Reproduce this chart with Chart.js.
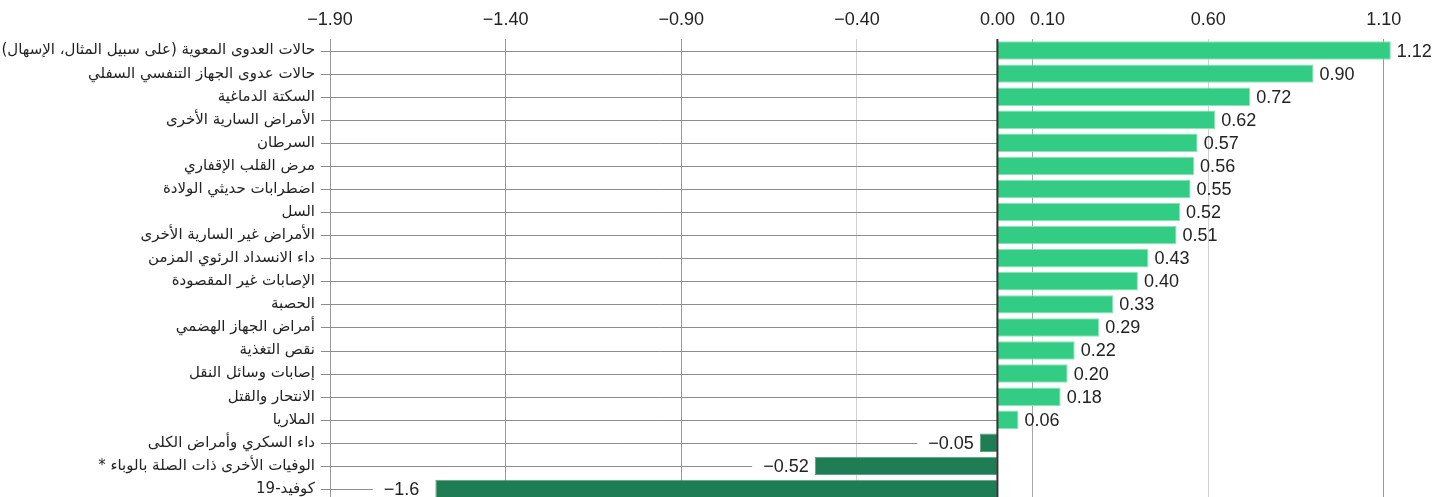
<!DOCTYPE html>
<html lang="ar">
<head>
<meta charset="utf-8">
<title>Chart</title>
<script src="https://cdn.jsdelivr.net/npm/chart.js@4.4.1/dist/chart.umd.min.js"></script>
<style>
  html, body { margin: 0; padding: 0; background: #fff; overflow: hidden; }
  #wrap { position: relative; width: 1451px; height: 505px; }
</style>
</head>
<body>
<div id="wrap"><canvas id="chart"></canvas></div>
<script>
// categorías (de arriba abajo)
const categories = [
  'حالات العدوى المعوية (على سبيل المثال، الإسهال)',
  'حالات عدوى الجهاز التنفسي السفلي',
  'السكتة الدماغية',
  'الأمراض السارية الأخرى',
  'السرطان',
  'مرض القلب الإقفاري',
  'اضطرابات حديثي الولادة',
  'السل',
  'الأمراض غير السارية الأخرى',
  'داء الانسداد الرئوي المزمن',
  'الإصابات غير المقصودة',
  'الحصبة',
  'أمراض الجهاز الهضمي',
  'نقص التغذية',
  'إصابات وسائل النقل',
  'الانتحار والقتل',
  'الملاريا',
  'داء السكري وأمراض الكلى',
  'الوفيات الأخرى ذات الصلة بالوباء *',
  'كوفيد-19'
];

const values = [1.12, 0.90, 0.72, 0.62, 0.57, 0.56, 0.55, 0.52, 0.51, 0.43,
                0.40, 0.33, 0.29, 0.22, 0.20, 0.18, 0.06, -0.05, -0.52, -1.6];

const valueLabels = ['1.12', '0.90', '0.72', '0.62', '0.57', '0.56', '0.55', '0.52', '0.51', '0.43',
                     '0.40', '0.33', '0.29', '0.22', '0.20', '0.18', '0.06', '−0.05', '−0.52', '−1.6'];

const xTicks = [-1.9, -1.4, -0.9, -0.4, 0, 0.1, 0.6, 1.1];

const NUM_FONT = '18px "Liberation Sans", Arial, sans-serif';
const CAT_FONT = '15px "DejaVu Sans", sans-serif';

function fmt(v) {
  return (v < 0 ? '−' : '') + Math.abs(v).toFixed(2);
}

// líneas de fila, línea del cero y etiquetas
const annotate = {
  id: 'annotate',
  beforeDatasetsDraw(chart) {
    const ctx = chart.ctx;
    const x = chart.scales.x;
    const meta = chart.getDatasetMeta(0);
    const x0 = x.getPixelForValue(0);
    ctx.save();
    ctx.font = NUM_FONT;
    ctx.strokeStyle = '#8c8c8c';
    ctx.lineWidth = 1;
    meta.data.forEach((bar, i) => {
      let end = x0;
      if (values[i] < 0) {
        end = bar.x - 6 - ctx.measureText(fmt(values[i])).width - 11;
      }
      const y = Math.round(bar.y) + 0.5;
      ctx.beginPath();
      ctx.moveTo(chart.chartArea.left - 9, y);
      ctx.lineTo(end, y);
      ctx.stroke();
    });
    ctx.restore();
  },
  afterDatasetsDraw(chart) {
    const ctx = chart.ctx;
    const x = chart.scales.x;
    const meta = chart.getDatasetMeta(0);
    const x0 = x.getPixelForValue(0);
    const area = chart.chartArea;
    ctx.save();
    // eje cero
    ctx.strokeStyle = '#333';
    ctx.lineWidth = 2;
    ctx.beginPath();
    ctx.moveTo(x0, area.top);
    ctx.lineTo(x0, area.bottom);
    ctx.stroke();

    ctx.font = NUM_FONT;
    ctx.fillStyle = '#222';
    ctx.textBaseline = 'middle';

    // etiquetas del eje x (0.10 desplazada para no chocar con 0.00)
    ctx.textAlign = 'center';
    xTicks.forEach(v => {
      const px = x.getPixelForValue(v) + (v === 0.1 ? 15 : 0);
      ctx.fillText(fmt(v), px, 20);
    });

    // valores
    ctx.textAlign = 'left';
    meta.data.forEach((bar, i) => {
      let tx;
      if (values[i] >= 0) {
        tx = bar.x + 6;
      } else {
        tx = bar.x - 6 - ctx.measureText(fmt(values[i])).width;
      }
      ctx.fillText(valueLabels[i], tx, bar.y + 1);
    });

    // categorías (texto de derecha a izquierda)
    ctx.font = CAT_FONT;
    ctx.direction = 'rtl';
    ctx.textAlign = 'right';
    meta.data.forEach((bar, i) => {
      ctx.fillText(categories[i], area.left - 15, bar.y);
    });
    ctx.restore();
  }
};

const gridColors = ['#9a9a9a', '#9a9a9a', '#9a9a9a', '#d2d2d2', 'rgba(0,0,0,0)', '#a6a6a6', '#d2d2d2', '#999'];

new Chart(document.getElementById('chart'), {
  type: 'bar',
  data: {
    labels: categories,
    datasets: [{
      data: values,
      backgroundColor: values.map(v => v >= 0 ? '#33cc85' : '#1f7d56'),
      borderColor: values.map(v => v >= 0 ? '#8fe2b8' : '#5e9e80'),
      borderWidth: 1,
      borderSkipped: 'start',
      barPercentage: 0.8,
      categoryPercentage: 1
    }]
  },
  options: {
    indexAxis: 'y',
    responsive: true,
    maintainAspectRatio: false,
    animation: false,
    layout: { padding: { left: 0, right: 11, top: 0, bottom: 4.5 } },
    plugins: {
      legend: { display: false },
      tooltip: { enabled: false }
    },
    scales: {
      x: {
        position: 'top',
        min: -1.9,
        max: 1.26,
        afterBuildTicks(scale) {
          scale.ticks = xTicks.map(v => ({ value: v }));
        },
        afterFit(scale) { scale.height = 39; },
        border: { display: false },
        grid: {
          drawTicks: false,
          color: ctx => gridColors[ctx.index] || '#999',
          lineWidth: 1
        },
        ticks: { display: false }
      },
      y: {
        afterFit(scale) { scale.width = 330; },
        border: { display: false },
        grid: { display: false },
        ticks: { display: false }
      }
    }
  },
  plugins: [annotate]
});
</script>
</body>
</html>
